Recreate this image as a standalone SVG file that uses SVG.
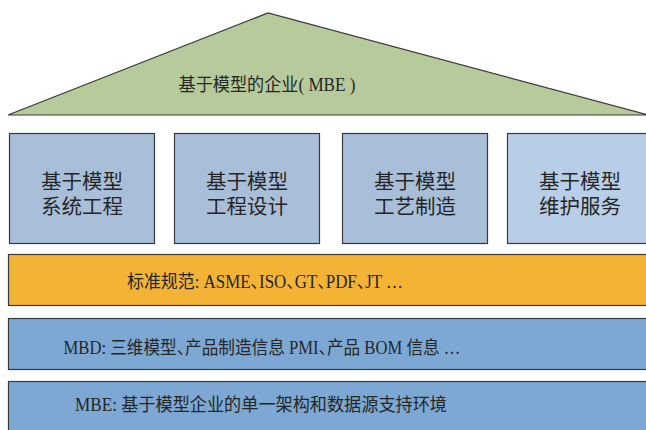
<svg xmlns="http://www.w3.org/2000/svg" width="646" height="430" viewBox="0 0 646 430">
<style>
.t{font-family:"Liberation Serif","Noto Sans CJK SC",serif;fill:#262626;text-anchor:middle;dominant-baseline:central}
.b{font-size:20.5px}
.l{font-size:18px}
.c{letter-spacing:-9px}
.s{stroke:#3a3a3a;stroke-width:1.2}
</style>
<rect width="646" height="430" fill="#fff"/>
<g id="roof">
<polygon class="s" points="8,115 268,13 648,115" fill="#b6ca9b"/>
<text class="t l" x="267" y="85" textLength="177" lengthAdjust="spacingAndGlyphs">基于模型的企业( MBE )</text>
</g>
<g id="box1">
<rect class="s" x="9.5" y="133.5" width="145" height="110" fill="#a9bfd9"/>
<text class="t b" x="82" y="182">基于模型</text>
<text class="t b" x="82" y="207">系统工程</text>
</g>
<g id="box2">
<rect class="s" x="174.5" y="133.5" width="145" height="110" fill="#a9bfd9"/>
<text class="t b" x="247" y="182">基于模型</text>
<text class="t b" x="247" y="207">工程设计</text>
</g>
<g id="box3">
<rect class="s" x="342.5" y="133.5" width="145" height="110" fill="#a9bfd9"/>
<text class="t b" x="415" y="182">基于模型</text>
<text class="t b" x="415" y="207">工艺制造</text>
</g>
<g id="box4">
<rect class="s" x="507.5" y="133.5" width="145" height="110" fill="#b8cee6"/>
<text class="t b" x="580" y="182">基于模型</text>
<text class="t b" x="580" y="207">维护服务</text>
</g>
<g id="standards">
<rect class="s" x="8.5" y="254.5" width="645" height="51" fill="#f3b335"/>
<text class="t l" x="265" y="282" textLength="276" lengthAdjust="spacingAndGlyphs">标准规范: ASME<tspan class="c">、</tspan>ISO<tspan class="c">、</tspan>GT<tspan class="c">、</tspan>PDF<tspan class="c">、</tspan>JT …</text>
</g>
<g id="mbd">
<rect class="s" x="8.5" y="318.5" width="645" height="51" fill="#7ca8d3"/>
<text class="t l" x="262" y="348" textLength="397" lengthAdjust="spacingAndGlyphs">MBD: 三维模型<tspan class="c">、</tspan>产品制造信息 PMI<tspan class="c">、</tspan>产品 BOM 信息 …</text>
</g>
<g id="mbe">
<rect class="s" x="8.5" y="381.5" width="645" height="60" fill="#7ca8d3"/>
<text class="t l" x="261" y="405" textLength="372" lengthAdjust="spacingAndGlyphs">MBE: 基于模型企业的单一架构和数据源支持环境</text>
</g>
<g id="connectors"/>
</svg>
